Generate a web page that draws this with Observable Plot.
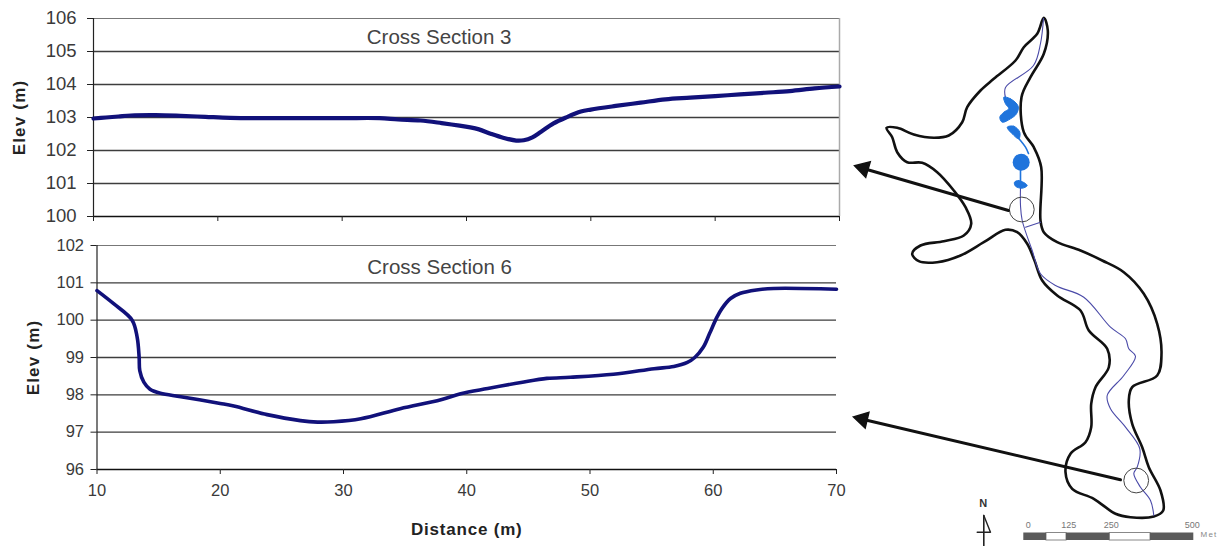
<!DOCTYPE html>
<html>
<head>
<meta charset="utf-8">
<script src="https://cdn.jsdelivr.net/npm/d3@7"></script>
<script src="https://cdn.jsdelivr.net/npm/@observablehq/plot@0.6"></script>
<style>
html,body{margin:0;padding:0;background:#fff}
#chart{position:relative;width:1222px;height:546px;overflow:hidden}
#chart svg{position:absolute;background:transparent;font-family:"Liberation Sans",Arial,sans-serif}
</style>
</head>
<body>
<div id="chart"></div>
<script>
// Cross Section 3: [distance m, elevation m]
const section3 = [[10,102.97],[11,103.0],[12,103.03],[13,103.06],[15,103.07],[17,103.05],[19,103.02],[21,102.99],[25,102.98],[30,102.98],[33,102.98],[34.5,102.94],[36.3,102.91],[38,102.83],[40.3,102.7],[41,102.64],[42,102.5],[43,102.38],[44,102.3],[44.6,102.31],[45.3,102.4],[46,102.57],[47,102.82],[48,103.0],[49.2,103.18],[50,103.24],[52,103.35],[54,103.45],[56,103.55],[58,103.6],[60,103.65],[62,103.7],[64,103.75],[66,103.8],[68,103.88],[70,103.94]];
// Cross Section 6: [distance m, elevation m]
const section6 = [[10,100.79],[11.35,100.44],[12.85,100.0],[13.26,99.54],[13.42,99.0],[13.47,98.65],[13.8,98.34],[14.3,98.15],[15.15,98.04],[16.8,97.95],[20,97.77],[21.1,97.7],[23.8,97.47],[26.5,97.31],[27.9,97.27],[29.2,97.28],[31.4,97.36],[34.6,97.63],[37.9,97.87],[39.5,98.03],[41.7,98.17],[44.4,98.33],[46.5,98.44],[48.4,98.47],[51.9,98.55],[55.2,98.7],[56.8,98.76],[57.9,98.87],[58.5,99.0],[59.2,99.28],[59.7,99.64],[60.3,100.08],[60.7,100.31],[61.4,100.58],[62.2,100.72],[63.5,100.81],[64.9,100.85],[70,100.83]];
const xTicks = [10,20,30,40,50,60,70];
const yTicks3 = [100,101,102,103,104,105,106];
const yTicks6 = [96,97,98,99,100,101,102];
const title3 = ["Cross Section 3"];
const title6 = ["Cross Section 6"];
const yLabel = ["Elev (m)"];
const xLabel = ["Distance (m)"];

// Map traces, in map units
const mapOutline = [[1043.3,17.3],[1036.7,33.3],[1023.3,46.7],[1015,60],[993.3,78.3],[980,90],[966.7,106.7],[961.7,121.7],[948.3,135],[933.3,137.3],[913.3,134],[896.7,127.3],[886,127.3],[891.7,136.7],[896.7,151.7],[906.7,161.7],[921.7,162.3],[936.7,171.7],[953.3,190],[965,206.7],[970.7,223.3],[963.3,235],[943.3,240.7],[920,245],[911.7,253.3],[918.3,260.7],[936.7,261.7],[960,255],[983.3,241.7],[1005,229.3],[1016.7,231.7],[1026.7,243.3],[1034,260],[1041.7,280],[1056.7,295],[1080,310],[1088.3,330],[1106.7,348.3],[1108.3,366.7],[1095,386.7],[1090.7,403.3],[1090.7,426.7],[1085,441.7],[1070,453.3],[1065,471.7],[1071.7,488.3],[1093.3,498.3],[1115,513.3],[1130,516.7],[1153.3,516],[1162.7,510],[1160,490],[1148.3,466.7],[1141.7,446.7],[1131.7,423.3],[1128.3,400],[1131.7,386.7],[1156.7,375],[1161,353.3],[1156.7,323.3],[1143.3,293.3],[1123.3,271.7],[1101.7,260],[1080,250],[1056.7,241.7],[1043.3,231.7],[1040,220],[1040.7,166.7],[1033.3,146.7],[1023.3,131.7],[1021,96.7],[1030,76.7],[1043.3,53.3],[1047.3,30]];
const river = [[1043,18],[1040,43],[1033,65],[1005,87],[1005,97]];
const riverLower = [[1020,187],[1020,205],[1021.7,220],[1031.7,250],[1040,273.3],[1055,285],[1083.3,296.7],[1110,326.7],[1125,338.3],[1128.3,348.3],[1135,355.7],[1123.3,375],[1106.7,395],[1110,408.3],[1125,426.7],[1139.3,448.3],[1136.7,466.7],[1133.3,473],[1140,486.7],[1150,500],[1153.3,515]];
const crossbar = [[1025,226.7],[1040,221.7]];
const pool1 = [[1003.3,96.7],[1010,98.3],[1017.7,105.7],[1016,113.3],[1010,118.3],[1001.7,121.7],[999.3,116.7],[1003.3,111.7],[1008.3,108.3],[1005,103.3]];
const pool2 = [[1006.7,126.7],[1013.3,125.7],[1019.3,131.7],[1018.3,138.3],[1011.7,133.3]];
const poolLink1 = [[1018.3,138],[1025,146.7],[1028,153]];
const poolLink2 = [[1020,168],[1020,181]];
const pool3 = [[1014,181.7],[1018.3,180],[1026.7,185],[1021.7,187.7],[1015,185.7]];
const poolBlob = [[1020.7,161.7]];
const sites = [[1021.3,209],[1135.7,480]];
const arrowUpper = [[1008,210],[863,168]];
const arrowLower = [[1120,479.3],[862,418.8]];
const arrowHeads = [{p:[863,167.8],a:-73.7},{p:[862,418.6],a:-76.7}];
const northStem = [[983.3,515],[983.3,545]];
const northHead = [[983.3,515],[990,531.7],[976.7,531.7]];
const northLabel = [{p:[982.7,503],t:"N"}];
const scaleDark = [[1023.3,1046],[1066,1109.3],[1150,1193.3]];
const scaleLight = [[1046,1066],[1109.3,1150]];
const scaleLabels = [{p:[1027.7,525],t:"0"},{p:[1068.3,525],t:"125"},{p:[1110.7,525],t:"250"},{p:[1191.7,525],t:"500"}];
const scaleUnit = [{p:[1208.5,533.5],t:"Met"}];
const sans = '"Liberation Sans",Arial,sans-serif';
const lineColor = "#11117a", textColor = "#3a3a3a", gridColor = "#3d3d3d", poolColor = "#1f74dc", riverColor = "#4a4aa8";

function panel(o){
  return Plot.plot({
    width:860, height:o.height, marginLeft:o.left, marginRight:860-o.right,
    marginTop:o.top, marginBottom:o.height-o.bottom,
    x:{domain:[10,70]}, y:{domain:o.ydomain},
    style:{position:"absolute",left:"0px",top:o.y+"px",overflow:"visible"},
    marks:[
      Plot.ruleY(o.yticks,{x1:10,x2:70,stroke:d=>d===o.ydomain[0]?"#111":(d===o.ydomain[1]?"#777":gridColor),strokeWidth:d=>d===o.ydomain[1]?1:1.3}),
      o.border ? Plot.ruleX([70],{stroke:"#aaa",strokeWidth:1.5}) : null,
      Plot.ruleX([10],{stroke:"#222",strokeWidth:1.2}),
      Plot.axisY({ticks:o.yticks,tickSize:6,tickPadding:o.ypad,fontSize:o.yfont,label:null,color:textColor,tickFormat:d=>String(d),stroke:"#222"}),
      Plot.axisX({ticks:xTicks,tickSize:5,tickPadding:10,fontSize:16.5,label:null,color:textColor,tickFormat:o.xlabels?(d=>String(d)):(()=>""),stroke:"#222"}),
      Plot.line(o.data,{curve:"catmull-rom",stroke:lineColor,strokeWidth:o.sw}),
      Plot.text(o.title,{x:o.titleX,y:o.titleY,text:d=>d,fontSize:20.5,fill:"#444",fontFamily:sans}),
      Plot.text(yLabel,{x:10,y:o.labelY,dx:o.labelDx,rotate:-90,text:d=>d,fontSize:17,fontWeight:"bold",fill:"#222",fontFamily:sans}),
      o.xlabels ? Plot.text(xLabel,{x:40,y:96,dy:60,text:d=>d,fontSize:17,fontWeight:"bold",fill:"#222",fontFamily:sans}) : null
    ]
  });
}
const top3 = panel({height:232,y:0,left:93,right:839,top:18,bottom:216,ydomain:[100,106],yticks:yTicks3,ypad:11,yfont:18.5,data:section3,sw:4.2,border:true,xlabels:false,title:title3,titleX:37.8,titleY:105.43,labelY:103,labelDx:-74});
const bot6 = panel({height:314,y:232,left:96.5,right:836,top:13,bottom:237,ydomain:[96,102],yticks:yTicks6,ypad:7,yfont:16.5,data:section6,sw:3.6,border:false,xlabels:true,title:title6,titleX:37.8,titleY:101.4,labelY:99,labelDx:-63});

const map = Plot.plot({
  width:377, height:546, margin:0,
  x:{domain:[845,1222],axis:null}, y:{domain:[546,0],axis:null},
  style:{position:"absolute",left:"845px",top:"0px"},
  marks:[
    Plot.line(mapOutline,{curve:"catmull-rom-closed",stroke:"#111",strokeWidth:2.6,fill:"none"}),
    Plot.line(river,{curve:"catmull-rom",stroke:riverColor,strokeWidth:1.1}),
    Plot.line(riverLower,{curve:"catmull-rom",stroke:riverColor,strokeWidth:1.1}),
    Plot.line(crossbar,{stroke:riverColor,strokeWidth:1.1}),
    Plot.line(pool1,{curve:"catmull-rom-closed",stroke:poolColor,strokeWidth:1,fill:poolColor}),
    Plot.line(pool2,{curve:"catmull-rom-closed",stroke:poolColor,strokeWidth:1,fill:poolColor}),
    Plot.line(pool3,{curve:"catmull-rom-closed",stroke:poolColor,strokeWidth:1,fill:poolColor}),
    Plot.line(poolLink1,{curve:"catmull-rom",stroke:poolColor,strokeWidth:1.6}),
    Plot.line(poolLink2,{stroke:poolColor,strokeWidth:1.6}),
    Plot.dot(poolBlob,{r:8.5,fill:poolColor}),
    Plot.dot(sites,{r:12.4,stroke:"#444",strokeWidth:1,fill:"none"}),
    Plot.line(arrowUpper,{stroke:"#111",strokeWidth:3}),
    Plot.line(arrowLower,{stroke:"#111",strokeWidth:3}),
    Plot.dot(arrowHeads,{x:d=>d.p[0],y:d=>d.p[1],symbol:"triangle",r:6,rotate:d=>d.a,fill:"#111",stroke:"#111"}),
    Plot.line(northStem,{stroke:"#222",strokeWidth:1.6}),
    Plot.line(northHead,{stroke:"#222",strokeWidth:1.4}),
    Plot.text(northLabel,{x:d=>d.p[0],y:d=>d.p[1],text:d=>d.t,fontSize:11,fontWeight:"bold",fill:"#333",fontFamily:sans}),
    Plot.rectY(scaleLight,{x1:d=>d[0],x2:d=>d[1],y1:532.5,y2:540,fill:"#fff",stroke:"#888",strokeWidth:1}),
    Plot.rectY(scaleDark,{x1:d=>d[0],x2:d=>d[1],y1:532.5,y2:540,fill:"#5a5a5a"}),
    Plot.text(scaleLabels,{x:d=>d.p[0],y:d=>d.p[1],text:d=>d.t,fontSize:9,fill:"#777",fontFamily:sans}),
    Plot.text(scaleUnit,{x:d=>d.p[0],y:d=>d.p[1],text:d=>d.t,fontSize:8,fill:"#888",fontFamily:sans})
  ]
});
const root = document.getElementById("chart");
root.append(map, top3, bot6);
// Spaced-out lettering of the axis titles and the map unit
const spaced = {"Elev (m)":"1.2px","Distance (m)":"0.8px","Met":"1.2px"};
d3.selectAll("#chart svg text").each(function(){
  const s = spaced[this.textContent];
  if (s) this.style.letterSpacing = s;
});
</script>
</body>
</html>
